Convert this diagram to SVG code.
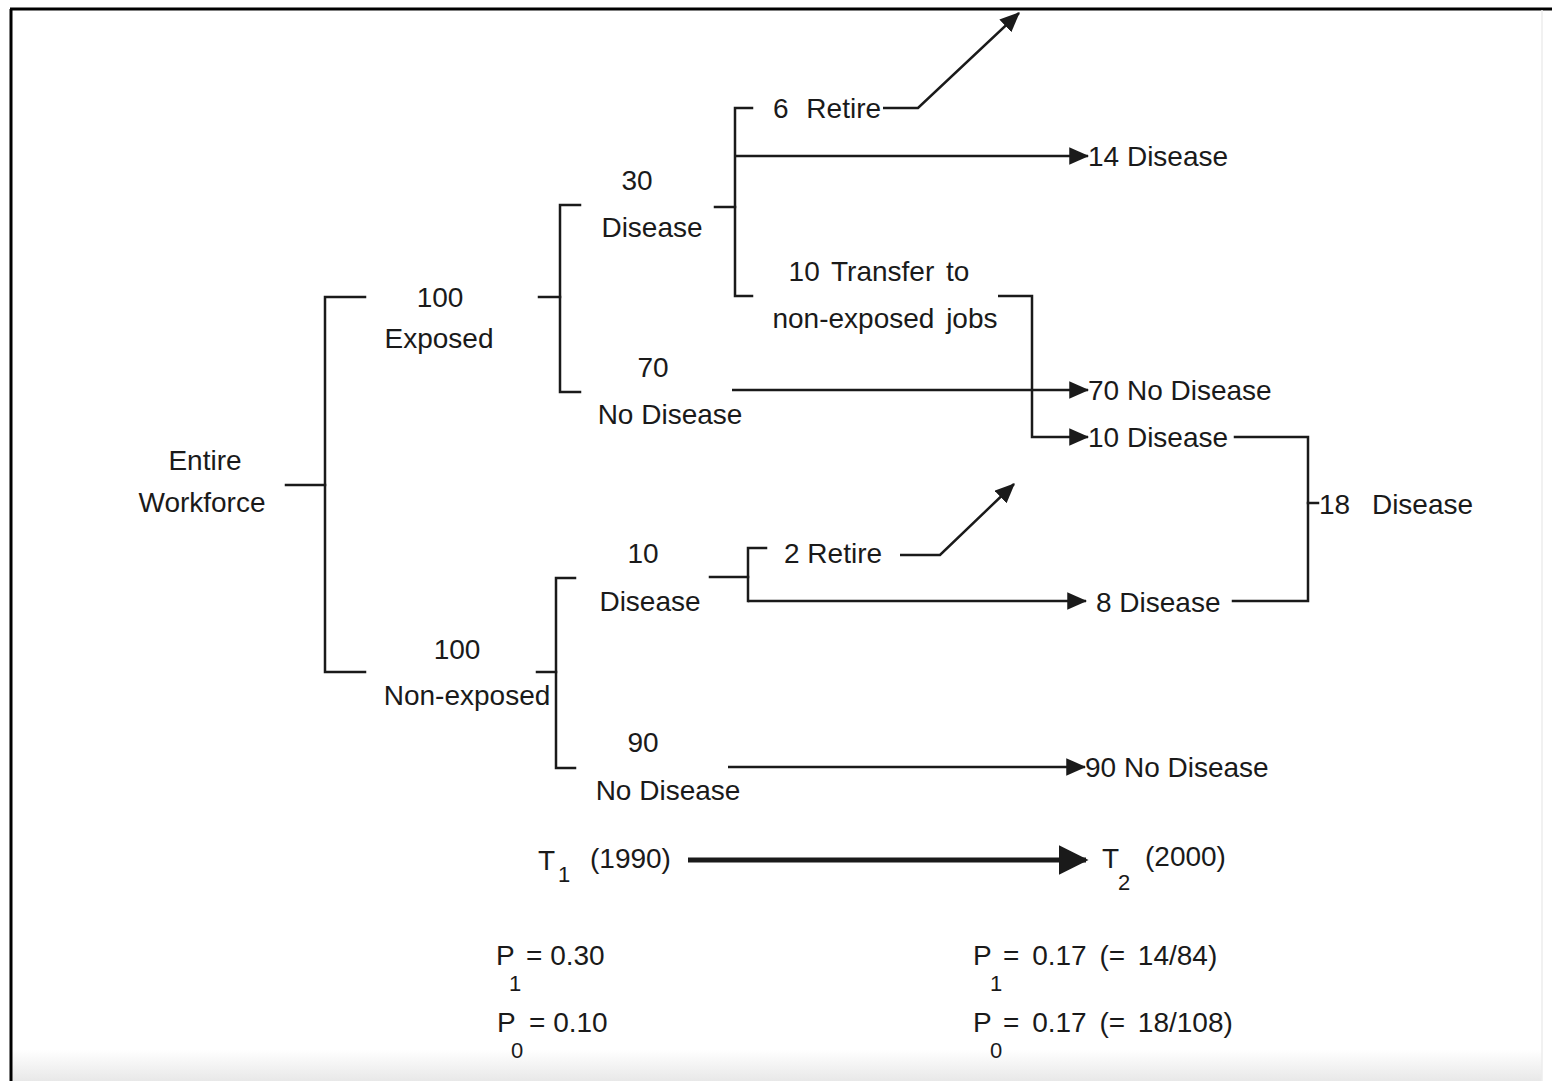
<svg xmlns="http://www.w3.org/2000/svg" width="1552" height="1081" viewBox="0 0 1552 1081">
<defs>
<style>
text{font-family:"Liberation Sans",Arial,sans-serif;font-size:28px;fill:#1a1a1a}
.sub{font-size:22px}
.ws{word-spacing:10px}
.ln{stroke:#1a1a1a;stroke-width:2.5;fill:none;stroke-linecap:square}
.ar{stroke:#1a1a1a;stroke-width:2.5;fill:none;marker-end:url(#ah)}
</style>
<marker id="ah" markerWidth="8" markerHeight="7" refX="7.5" refY="3.5" orient="auto" markerUnits="strokeWidth">
<path d="M0,0 L8,3.5 L0,7 Z" fill="#1a1a1a"/>
</marker>
<marker id="ahb" markerWidth="6" markerHeight="6" refX="5.5" refY="3" orient="auto" markerUnits="strokeWidth">
<path d="M0,0 L6,3 L0,6 Z" fill="#1a1a1a"/>
</marker>
<linearGradient id="bot" x1="0" y1="0" x2="0" y2="1">
<stop offset="0" stop-color="#ffffff"/>
<stop offset="1" stop-color="#e8e8e8"/>
</linearGradient>
</defs>
<rect width="1552" height="1081" fill="#ffffff"/>
<rect x="12" y="1050" width="1530" height="31" fill="url(#bot)"/>
<g id="frame">
<line x1="10" y1="9" x2="1552" y2="9" stroke="#000" stroke-width="3"/>
<line x1="11" y1="9" x2="11" y2="1081" stroke="#000" stroke-width="3"/>
<line x1="1542" y1="10" x2="1542" y2="1081" stroke="#ececec" stroke-width="1.5"/>
</g>
<g id="connectors">
<path class="ln" d="M286,485 H325"/>
<path class="ln" d="M365,297 H325 V672 H365"/>
<path class="ln" d="M539,297 H560"/>
<path class="ln" d="M580,205 H560 V392 H580"/>
<path class="ln" d="M715,207 H735"/>
<path class="ln" d="M752,108 H735 V296 H752"/>
<path class="ar" d="M883,108 H918 L1019,13"/>
<path class="ar" d="M735,156 H1088"/>
<path class="ar" d="M998,296 H1032 V437 H1088"/>
<path class="ar" d="M732,390 H1088"/>
<path class="ln" d="M1235,437 H1308 V601 H1233"/>
<path class="ln" d="M1308,503 H1318"/>
<path class="ln" d="M537,672 H556"/>
<path class="ln" d="M575,578 H556 V768 H575"/>
<path class="ln" d="M710,577 H748"/>
<path class="ln" d="M766,548 H748 V601"/>
<path class="ar" d="M900,555 H940 L1014,484"/>
<path class="ar" d="M748,601 H1086"/>
<path class="ar" d="M728,767 H1085"/>
<path d="M688,860 H1086" stroke="#1a1a1a" stroke-width="5" fill="none" marker-end="url(#ahb)"/>
</g>
<g id="n-entire"><text x="205" y="470" text-anchor="middle">Entire</text><text x="202" y="512" text-anchor="middle">Workforce</text></g>
<g id="n-exposed"><text x="440" y="307" text-anchor="middle">100</text><text x="439" y="348" text-anchor="middle">Exposed</text></g>
<g id="n-nonexposed"><text x="457" y="659" text-anchor="middle">100</text><text x="467" y="705" text-anchor="middle">Non-exposed</text></g>
<g id="n-exp-disease"><text x="637" y="190" text-anchor="middle">30</text><text x="652" y="237" text-anchor="middle">Disease</text></g>
<g id="n-exp-nodisease"><text x="653" y="377" text-anchor="middle">70</text><text x="670" y="424" text-anchor="middle">No Disease</text></g>
<g id="n-retire6"><text class="ws" x="773" y="118">6 Retire</text></g>
<g id="n-transfer"><text x="879" y="281" text-anchor="middle" style="word-spacing:4px">10 Transfer to</text><text x="885" y="328" text-anchor="middle" style="word-spacing:4px">non-exposed jobs</text></g>
<g id="n-14disease"><text x="1088" y="166">14 Disease</text></g>
<g id="n-70nodisease"><text x="1088" y="400">70 No Disease</text></g>
<g id="n-10disease"><text x="1088" y="447">10 Disease</text></g>
<g id="n-18disease"><text x="1319" y="514" style="word-spacing:14px">18 Disease</text></g>
<g id="n-ne-disease"><text x="643" y="563" text-anchor="middle">10</text><text x="650" y="611" text-anchor="middle">Disease</text></g>
<g id="n-retire2"><text x="784" y="563">2 Retire</text></g>
<g id="n-8disease"><text x="1096" y="612">8 Disease</text></g>
<g id="n-ne-nodisease"><text x="643" y="752" text-anchor="middle">90</text><text x="668" y="800" text-anchor="middle">No Disease</text></g>
<g id="n-90nodisease"><text x="1085" y="777">90 No Disease</text></g>
<g id="n-t1"><text x="538" y="870">T</text><text class="sub" x="558" y="882">1</text><text x="590" y="868">(1990)</text></g>
<g id="n-t2"><text x="1102" y="868">T</text><text class="sub" x="1118" y="890">2</text><text x="1145" y="866">(2000)</text></g>
<g id="n-p1a"><text x="496" y="965">P</text><text class="sub" x="509" y="991">1</text><text x="526" y="965">= 0.30</text></g>
<g id="n-p0a"><text x="497" y="1032">P</text><text class="sub" x="511" y="1058">0</text><text x="529" y="1032">= 0.10</text></g>
<g id="n-p1b"><text x="973" y="965">P</text><text class="sub" x="990" y="991">1</text><text x="1003" y="965" style="word-spacing:5px">= 0.17 (= 14/84)</text></g>
<g id="n-p0b"><text x="973" y="1032">P</text><text class="sub" x="990" y="1058">0</text><text x="1003" y="1032" style="word-spacing:5px">= 0.17 (= 18/108)</text></g>
</svg>
